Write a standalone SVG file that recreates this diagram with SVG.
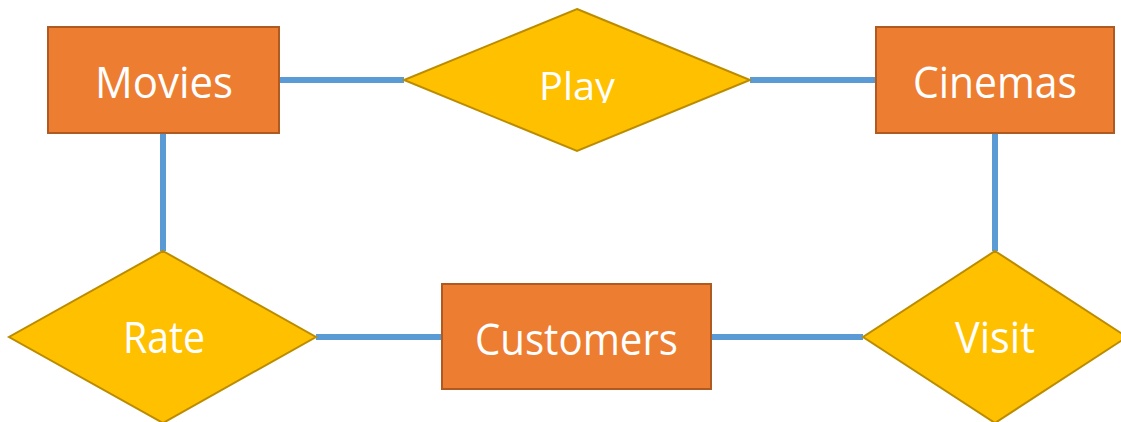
<svg xmlns="http://www.w3.org/2000/svg" width="1121" height="422" viewBox="0 0 1121 422">
<style>
.ent{fill:#ED7D31;stroke:#AE5A21;stroke-width:2}
.rel{fill:#FFC000;stroke:#BC8C00;stroke-width:2}
.lbl{font-family:"Open Sans","Noto Sans",sans-serif;fill:#FFFFFF;text-anchor:middle;font-size:44px}
.edge{stroke:#5B9BD5;stroke-width:6;fill:none}
</style>
<defs>
<clipPath id="playclip"><rect x="400" y="0" width="360" height="103"/></clipPath>
</defs>
<rect width="1121" height="422" fill="#FFFFFF"/>
<g id="connectors">
<line class="edge" x1="279" y1="80" x2="404" y2="80"/>
<line class="edge" x1="750" y1="80" x2="876" y2="80"/>
<line class="edge" x1="163" y1="133" x2="163" y2="251"/>
<line class="edge" x1="995" y1="133" x2="995" y2="251"/>
<line class="edge" x1="316" y1="337" x2="442" y2="337"/>
<line class="edge" x1="711" y1="337" x2="863" y2="337"/>
</g>
<g id="movies">
<rect class="ent" x="48" y="27" width="231" height="106"/>
<text class="lbl" x="164" y="98" textLength="138" lengthAdjust="spacingAndGlyphs">Movies</text>
</g>
<g id="cinemas">
<rect class="ent" x="876" y="27" width="238" height="106"/>
<text class="lbl" x="995" y="98" textLength="164" lengthAdjust="spacingAndGlyphs">Cinemas</text>
</g>
<g id="customers">
<rect class="ent" x="442" y="284" width="269" height="105"/>
<text class="lbl" x="576.5" y="355" textLength="203" lengthAdjust="spacingAndGlyphs">Customers</text>
</g>
<g id="play">
<polygon class="rel" points="577,9 750,80 577,151 404,80"/>
<text class="lbl" x="577" y="100" textLength="76" lengthAdjust="spacingAndGlyphs" clip-path="url(#playclip)" style="font-size:39px">Play</text>
</g>
<g id="rate">
<polygon class="rel" points="163,251 316,337 163,423 9,337"/>
<text class="lbl" x="164" y="353" textLength="82" lengthAdjust="spacingAndGlyphs">Rate</text>
</g>
<g id="visit">
<polygon class="rel" points="995,251 1127,337 995,423 863,337"/>
<text class="lbl" x="995" y="353" textLength="80" lengthAdjust="spacingAndGlyphs">Visit</text>
</g>
</svg>
